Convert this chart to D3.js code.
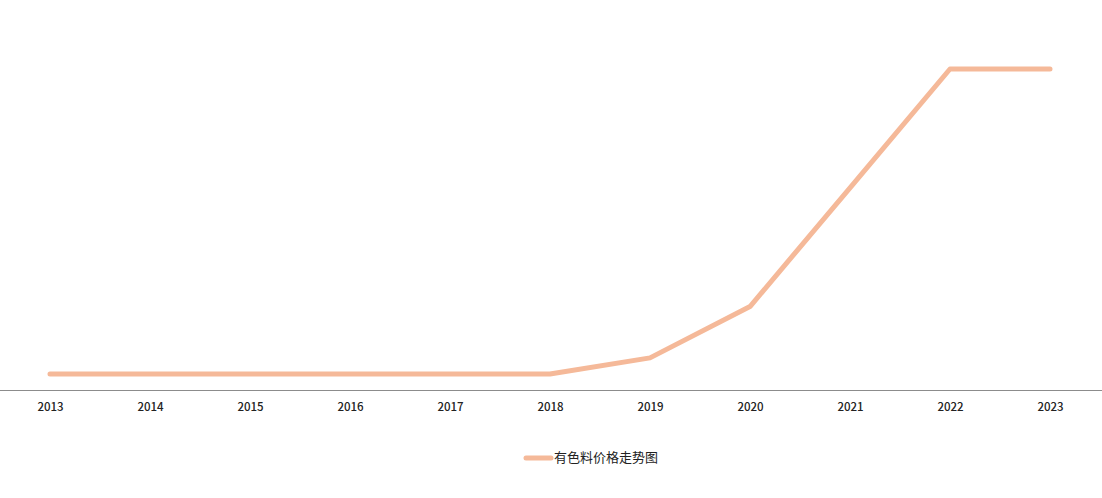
<!DOCTYPE html>
<html><head><meta charset="utf-8">
<script src="https://cdn.jsdelivr.net/npm/d3@7"></script>
<style>body{margin:0;background:#fff}svg{display:block}</style>
</head><body>
<svg id="c" width="1102" height="498"></svg>
<script>
const years = ["2013","2014","2015","2016","2017","2018","2019","2020","2021","2022","2023"];
const prices = [1,1,1,1,1,1,2,5.2,12.6,20,20];
const seriesName = "有色料价格走势图";

const svg = d3.select("#c");
const x = d3.scalePoint().domain(years).range([50,1050]);
const y = d3.scaleLinear().domain([0,20]).range([390,69]);

svg.append("line").attr("x1",0).attr("x2",1102).attr("y1",390.5).attr("y2",390.5)
  .attr("stroke","#8c8c8c").attr("stroke-width",1);

const ax = svg.append("g").attr("transform","translate(0,390)")
  .call(d3.axisBottom(x).tickSize(0).tickPadding(13));
ax.select(".domain").remove();
ax.selectAll("text").attr("font-family","'Noto Sans CJK SC', 'DejaVu Sans', sans-serif")
  .attr("font-size",11.5).attr("fill","#222").attr("font-weight","500");

svg.append("path").datum(prices)
  .attr("fill","none").attr("stroke","#f5b999").attr("stroke-width",5)
  .attr("stroke-linecap","round").attr("stroke-linejoin","round")
  .attr("d", d3.line().x((d,i)=>x(years[i])).y(d=>y(d)));

const lg = svg.append("g");
lg.append("line").attr("x1",526).attr("x2",551).attr("y1",458).attr("y2",458)
  .attr("stroke","#f5b999").attr("stroke-width",5).attr("stroke-linecap","round");
lg.append("text").attr("x",554).attr("y",462).text(seriesName)
  .attr("font-family","'Noto Sans CJK SC', sans-serif").attr("font-size",13).attr("fill","#222");
</script>
</body></html>
